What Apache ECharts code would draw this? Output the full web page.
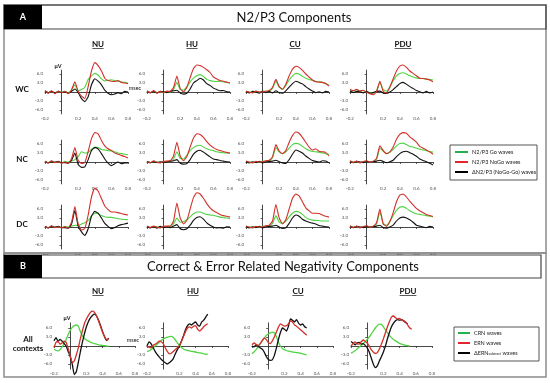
<!DOCTYPE html>
<html><head><meta charset="utf-8">
<script src="https://cdn.jsdelivr.net/npm/echarts@6/dist/echarts.min.js"></script>
<style>html,body{margin:0;padding:0;background:#fff}#c{width:550px;height:383px}</style>
</head><body><div id="c"></div>
<script>
// ---------------- DATA ----------------
const columns = ['NU','HU','CU','PDU'];
const rowsA = ['WC','NC','DC'];
const yTicks = [-6,-3,3,6];
const timeA = [-0.2,-0.16,-0.12,-0.08,-0.04,0,0.04,0.08,0.12,0.16,0.2,0.24,0.28,0.32,0.36,0.4,0.44,0.48,0.52,0.56,0.6,0.64,0.68,0.72,0.76,0.8];
const timeB = [-0.2,-0.175,-0.15,-0.125,-0.1,-0.075,-0.05,-0.025,0,0.025,0.05,0.075,0.1,0.125,0.15,0.175,0.2,0.225,0.25,0.275,0.3,0.325,0.35,0.375,0.4,0.425,0.45,0.475,0.5,0.525,0.55];

// Part A: N2/P3 Go (green), NoGo (red), NoGo-Go difference (black)
const NU_WC_go   = [0.3,-0.2,0.2,-0.3,0.1,-0.1,0.2,-0.2,0.6,2.4,0.4,0.8,1.6,4.2,5.4,6.2,5.6,4.4,3.7,3.9,4.1,3.8,3.6,3.4,3.2,2.9];
const NU_WC_nogo = [0.5,-0.4,0.4,-0.6,0.3,-0.3,0.2,-0.6,0.8,3.4,0.2,-1.4,-2.2,1.8,7.0,9.8,8.8,7.0,4.6,3.8,3.6,3.5,3.8,3.2,3.0,2.8];
const NU_WC_diff = [0.2,-0.2,0.2,-0.3,0.2,-0.2,0.0,-0.4,0.2,1.0,-0.2,-2.2,-3.2,-1.6,2.4,4.4,3.6,2.4,0.6,-0.4,-0.9,-0.7,-0.2,-0.6,0.2,0.0];
const HU_WC_go   = [0.2,-0.2,0.3,-0.2,0.1,-0.3,0.2,0.0,0.8,3.2,0.8,0.6,1.8,3.4,4.6,5.4,5.8,5.2,4.2,3.8,3.6,3.5,3.6,3.4,3.2,3.0];
const HU_WC_nogo = [0.4,-0.3,0.5,-0.4,0.2,-0.2,0.3,0.2,1.5,5.3,1.2,0.0,1.5,4.8,7.8,9.0,8.8,8.2,7.4,6.5,5.0,4.4,3.8,3.6,3.3,3.0];
const HU_WC_diff = [0.2,-0.2,0.1,-0.3,0.2,0.1,-0.2,0.2,0.4,0.6,-0.3,-0.7,-0.4,1.0,3.0,3.8,4.6,4.0,2.8,2.2,1.3,0.8,0.4,0.5,0.1,0.0];
const CU_WC_go   = [0.3,0.0,-0.2,0.2,-0.1,0.2,0.1,0.3,1.2,3.6,1.6,0.9,2.2,4.0,5.4,6.2,6.0,5.2,4.6,4.2,3.9,3.6,3.4,3.2,2.8,2.2];
const CU_WC_nogo = [0.2,-0.1,-0.3,0.3,0.0,0.1,0.3,0.5,1.6,4.2,1.8,0.9,2.6,5.4,7.6,8.6,8.2,7.2,6.0,5.0,4.0,3.4,3.3,3.2,2.8,2.0];
const CU_WC_diff = [0.2,-0.3,0.2,0.0,-0.4,0.3,-0.2,0.2,-0.3,0.4,-0.2,-0.4,0.4,1.6,2.8,3.6,3.2,2.7,1.8,1.0,0.3,-0.2,0.1,-0.3,0.2,0.0];
const PDU_WC_go   = [0.6,0.3,0.8,0.2,0.5,0.0,-0.2,-0.3,0.3,3.2,0.8,0.3,1.8,3.8,5.4,6.2,6.4,6.0,5.4,5.0,4.7,4.5,4.5,4.3,4.2,4.0];
const PDU_WC_nogo = [0.8,0.4,0.9,0.3,0.6,-0.1,-0.6,-0.9,0.2,3.6,0.2,-0.4,1.6,4.4,7.0,8.6,9.0,8.2,7.0,6.2,5.4,4.6,4.5,4.3,4.0,3.4];
const PDU_WC_diff = [0.3,-0.2,0.2,0.1,-0.3,0.2,-0.4,-0.2,0.2,0.3,-0.3,-0.5,0.0,0.8,1.8,2.8,3.2,2.6,1.8,1.2,0.5,0.1,-0.3,0.2,-0.3,0.0];

const NU_NC_go   = [0.2,-0.2,0.3,-0.1,0.0,-0.3,0.2,0.0,0.3,0.8,1.8,3.4,3.0,3.2,4.2,5.0,4.8,4.2,4.0,3.8,3.7,3.4,3.0,2.8,2.6,2.4];
const NU_NC_nogo = [0.3,-0.3,0.4,-0.2,0.1,-0.4,0.0,-0.5,1.2,4.8,0.5,-0.5,-0.2,3.5,7.8,9.8,9.4,7.2,5.4,4.4,3.8,3.0,2.6,2.2,1.8,1.3];
const NU_NC_diff = [0.2,-0.3,0.1,-0.1,0.2,-0.2,-0.2,-0.4,0.6,3.0,-0.8,-1.8,-1.6,0.8,3.8,4.8,4.4,2.8,1.0,-0.4,-1.2,-0.6,0.0,-0.6,-0.3,-0.3];
const HU_NC_go   = [0.2,-0.2,0.2,0.0,-0.2,0.1,0.2,0.3,1.0,3.4,1.2,1.0,2.2,3.8,4.8,5.4,5.6,5.0,4.4,4.0,3.8,3.4,3.2,3.1,3.0,2.9];
const HU_NC_nogo = [0.3,-0.3,0.4,-0.1,-0.3,0.2,0.3,0.4,2.0,6.6,2.0,0.4,1.8,5.0,8.0,9.4,9.2,8.2,6.8,5.6,4.8,4.2,3.8,3.5,3.2,3.0];
const HU_NC_diff = [0.2,-0.2,0.1,-0.2,0.1,-0.1,0.0,0.2,0.4,0.8,-0.4,-0.7,-0.5,0.8,2.6,3.6,3.9,3.3,2.5,1.7,1.0,0.8,0.5,0.3,0.1,0.0];
const CU_NC_go   = [0.2,0.0,-0.2,0.1,-0.1,0.2,0.3,0.4,1.4,4.8,3.4,2.8,3.4,4.6,5.8,6.2,6.0,5.2,4.4,3.8,3.5,3.4,3.3,3.0,2.8,2.5];
const CU_NC_nogo = [0.3,-0.1,-0.3,0.2,0.0,0.1,0.4,0.6,1.8,5.8,3.6,2.8,3.8,6.6,8.8,10.0,9.6,8.2,6.6,5.0,4.0,4.4,3.6,3.4,3.2,2.0];
const CU_NC_diff = [0.2,-0.3,0.1,-0.2,0.2,-0.3,0.1,0.2,0.3,0.6,0.1,-0.3,-0.5,0.8,2.6,4.0,3.6,3.0,2.0,1.2,0.5,0.2,0.0,0.4,0.3,-0.3];
const PDU_NC_go   = [0.3,0.0,0.2,-0.2,0.1,0.3,0.0,0.2,0.8,4.6,3.6,2.8,3.2,4.2,5.4,6.2,6.3,5.8,5.2,5.0,4.6,4.3,4.0,3.8,3.5,3.3];
const PDU_NC_nogo = [0.4,-0.2,0.3,-0.3,0.2,0.4,-0.1,0.3,1.2,5.4,3.8,2.8,3.4,5.0,7.6,9.2,9.8,9.6,8.4,7.6,6.6,5.2,4.6,4.0,3.4,2.6];
const PDU_NC_diff = [0.2,-0.2,0.2,0.0,-0.2,0.2,-0.1,0.1,0.3,0.6,0.2,-0.2,0.1,0.6,1.8,2.8,3.4,3.6,3.1,2.6,1.9,1.0,0.5,0.1,-0.4,-1.0];

const NU_DC_go   = [0.2,-0.2,0.3,-0.1,0.0,-0.2,0.2,0.0,0.3,0.6,0.5,1.0,1.4,2.2,3.6,4.6,4.4,3.8,3.4,3.2,3.2,3.0,2.8,2.6,2.5,2.4];
const NU_DC_nogo = [0.3,-0.3,0.4,-0.2,0.1,-0.3,0.1,-0.4,1.6,6.8,1.0,-1.0,-0.5,4.0,10.0,13.0,12.0,9.5,7.0,5.8,5.0,5.0,4.8,4.5,4.2,4.0];
const NU_DC_diff = [0.2,-0.3,0.2,-0.1,0.2,-0.2,-0.2,-0.4,1.0,5.5,0.2,-1.6,-2.8,-0.6,3.6,5.2,4.6,3.0,1.2,0.2,-0.6,-0.2,0.4,0.8,1.0,1.3];
const HU_DC_go   = [0.2,-0.1,0.2,0.0,-0.2,0.1,0.2,0.2,1.0,3.0,1.6,1.8,2.4,3.4,4.4,5.0,5.0,4.6,4.2,4.0,3.9,3.6,3.3,3.1,3.0,2.8];
const HU_DC_nogo = [0.3,-0.2,0.3,-0.1,-0.3,0.2,0.3,0.3,2.0,8.0,3.0,1.0,2.2,6.0,9.8,11.4,11.0,9.6,7.8,6.4,5.4,4.8,4.2,3.8,3.6,3.3];
const HU_DC_diff = [0.2,-0.3,0.1,-0.4,0.2,-0.2,0.0,-0.2,0.3,0.8,-0.6,-0.9,-0.6,0.6,2.2,3.2,3.4,2.6,1.4,0.6,0.0,-0.3,-0.2,-0.4,0.1,0.0];
const CU_DC_go   = [0.2,0.0,-0.2,0.1,-0.1,0.2,0.3,0.4,1.2,3.8,1.6,1.2,2.0,3.4,4.6,5.2,5.0,4.2,3.2,2.6,2.3,2.2,2.1,2.0,2.0,2.0];
const CU_DC_nogo = [0.3,-0.1,-0.3,0.2,0.0,0.1,0.4,0.6,2.0,7.5,3.0,1.0,2.4,6.0,9.6,11.0,10.4,8.4,6.4,5.4,4.6,4.6,4.5,4.0,3.6,3.3];
const CU_DC_diff = [0.2,-0.3,0.1,-0.2,0.2,-0.3,0.1,0.2,0.3,0.6,0.0,-0.5,-0.3,1.2,3.0,4.0,3.6,2.6,2.0,1.6,1.3,1.0,0.5,0.3,0.1,0.0];
const PDU_DC_go   = [0.3,0.0,0.2,-0.2,0.1,0.3,0.0,0.2,1.0,5.0,1.2,0.6,1.8,3.8,5.6,6.6,6.8,6.2,5.4,4.8,4.4,4.2,4.0,3.8,3.6,3.4];
const PDU_DC_nogo = [0.4,-0.2,0.3,-0.3,0.2,0.4,-0.1,0.3,1.4,6.0,1.0,0.2,1.8,4.8,8.4,10.6,11.0,10.0,8.6,7.4,6.2,5.4,4.8,4.2,3.8,3.5];
const PDU_DC_diff = [0.2,-0.2,0.2,0.0,-0.2,0.2,-0.1,0.1,0.3,0.6,-0.2,-0.4,0.0,0.6,2.0,3.0,3.3,3.0,2.4,1.6,0.6,0.3,0.0,-0.2,0.2,0.0];

// Part B: CRN (green), ERN (red), ERN subtract (black)
const NU_crn = [-1.0,-1.5,-1.6,-1.2,-0.3,0.8,2.2,3.8,5.2,6.2,6.8,7.0,6.6,4.8,3.4,2.6,2.0,1.6,1.3,1.0,0.8,0.6,0.4,0.3,0.2,0.1,0.0,-0.1];
const NU_ern = [-0.5,1.2,1.5,0.6,1.0,1.6,1.2,-0.8,-3.2,-5.6,-5.0,-3.0,-0.6,2.4,5.0,7.4,9.0,10.2,11.2,11.6,11.2,10.0,8.4,6.4,4.6,3.2,2.0,2.4];
const NU_sub = [1.7,2.8,1.6,2.2,1.6,0.8,0.0,-1.8,-3.5,-6.0,-9.5,-8.6,-5.5,-2.0,1.2,4.0,6.4,8.2,9.4,10.2,10.6,10.0,8.6,6.8,4.8,3.0,1.8,2.6];
const HU_crn = [-1.8,-1.6,-1.2,-0.6,0.0,0.6,1.2,1.8,2.3,2.7,2.9,3.1,3.2,2.8,2.0,1.0,0.2,-0.5,-1.0,-1.3,-1.5,-1.6,-1.8,-1.9,-2.0,-2.2,-2.3,-2.4,-2.6,-2.7,-2.8];
const HU_ern = [0.0,-0.4,-0.6,0.2,0.6,1.0,1.6,1.4,0.8,-0.6,-1.8,-2.6,-2.4,-1.8,-1.2,-0.6,0.2,1.6,3.2,4.8,6.0,6.4,6.0,6.6,6.8,5.6,5.0,5.6,6.4,7.0,7.4];
const HU_sub = [0.0,1.4,0.8,-0.5,-1.8,-2.8,-3.6,-4.4,-5.0,-5.6,-6.0,-5.6,-5.0,-4.2,-2.6,-1.2,0.0,1.6,3.4,5.4,6.8,7.4,7.0,7.6,8.0,7.0,6.6,8.0,8.6,9.6,10.6];
const CU_crn = [-2.6,-2.0,-1.2,-0.4,0.6,1.6,2.6,3.4,4.0,4.4,4.6,4.4,3.2,1.4,0.0,-0.8,-1.2,-1.5,-1.7,-1.9,-2.0,-2.1,-2.2,-2.3,-2.4,-2.6,-2.8,-3.0];
const CU_ern = [0.4,1.0,0.6,0.2,0.8,1.8,2.6,2.2,1.2,0.8,1.6,3.0,4.6,6.2,7.4,7.0,6.6,6.8,7.4,8.4,8.0,7.0,6.6,6.0,5.4,4.8,4.2,3.6];
const CU_sub = [0.0,-0.3,0.4,0.0,-0.6,-1.0,-2.0,-3.4,-4.4,-4.8,-4.6,-3.2,-0.8,2.0,4.4,6.0,5.6,5.0,6.6,9.0,8.6,8.0,8.8,7.6,7.0,7.4,6.4,6.0];
const PDU_crn = [-2.4,-2.0,-1.6,-1.0,-0.4,0.2,0.8,1.4,2.2,3.0,4.0,5.0,6.0,6.8,7.3,7.2,6.4,5.4,4.4,3.5,2.8,2.2,1.7,1.3,0.9,0.6,0.4,0.2,0.1,0.0];
const PDU_ern = [0.0,0.8,1.4,0.8,0.6,1.4,2.0,1.6,1.0,0.0,-1.2,-2.0,-2.5,-2.2,-1.0,0.6,2.4,4.4,6.4,8.2,9.6,10.0,9.4,9.0,9.2,8.6,8.4,8.0,7.0,6.0,5.6];
const PDU_sub = [1.5,1.0,0.4,1.0,1.2,0.6,0.8,0.2,-0.6,-2.0,-4.0,-6.0,-7.2,-6.6,-5.0,-3.6,-2.0,0.0,2.4,4.6,6.4,7.6,8.4,8.8,8.6,8.8,8.4,7.8,7.4];

// ---------------- LAYOUT / STYLE ----------------
const FONT = 'Lato, "Liberation Sans", sans-serif';
const C_GREEN = '#4fd444', C_RED = '#d3302a', C_BLACK = '#111';
const colLeftA = [45,147,246,350], wA = 83, zeroA = [92,162,227], PXA = 3, EXTA = 7.3;
const colLeftB = [54,147,252,351], wB = 81, zeroB = 346, PXB = 3, EXTB = 7.7;

const panelsA = [
  [NU_WC_go,NU_WC_nogo,NU_WC_diff],[HU_WC_go,HU_WC_nogo,HU_WC_diff],[CU_WC_go,CU_WC_nogo,CU_WC_diff],[PDU_WC_go,PDU_WC_nogo,PDU_WC_diff],
  [NU_NC_go,NU_NC_nogo,NU_NC_diff],[HU_NC_go,HU_NC_nogo,HU_NC_diff],[CU_NC_go,CU_NC_nogo,CU_NC_diff],[PDU_NC_go,PDU_NC_nogo,PDU_NC_diff],
  [NU_DC_go,NU_DC_nogo,NU_DC_diff],[HU_DC_go,HU_DC_nogo,HU_DC_diff],[CU_DC_go,CU_DC_nogo,CU_DC_diff],[PDU_DC_go,PDU_DC_nogo,PDU_DC_diff]
];
const panelsB = [[NU_crn,NU_ern,NU_sub],[HU_crn,HU_ern,HU_sub],[CU_crn,CU_ern,CU_sub],[PDU_crn,PDU_ern,PDU_sub]];

function pairs(t, v){ const o=[]; for(let i=0;i<v.length&&i<t.length;i++) o.push([t[i],v[i]]); return o; }

const grids=[], xAxes=[], yAxes=[], series=[];
function addPanel(left, top, width, height, ext, t, triple, lw){
  const gi = grids.length;
  grids.push({left, top, width, height, outerBoundsMode:'none', containLabel:false});
  xAxes.push({gridIndex:gi, type:'value', min:-0.2, max:0.8, interval:0.2,
    axisLine:{onZero:true, lineStyle:{color:'#333', width:0.9}},
    axisTick:{show:true, length:2, lineStyle:{color:'#333', width:0.8}},
    axisLabel:{fontSize:4.5, color:'#555', margin:2, fontFamily:FONT,
      formatter:v=>Math.abs(v)<1e-6?'':v.toFixed(1)},
    splitLine:{show:false}});
  yAxes.push({gridIndex:gi, type:'value', min:-ext, max:ext,
    axisLine:{show:true, onZero:true, lineStyle:{color:'#333', width:0.9}},
    axisTick:{show:true, length:2, customValues:yTicks, lineStyle:{color:'#333', width:0.8}},
    axisLabel:{fontSize:4.5, color:'#555', margin:2, fontFamily:FONT, customValues:yTicks,
      formatter:v=>v.toFixed(1)},
    splitLine:{show:false}});
  const cols=[C_GREEN, C_BLACK, C_RED];
  const order=[0,2,1];
  order.forEach((k,j)=>{
    series.push({type:'line', xAxisIndex:gi, yAxisIndex:gi, data:pairs(t, triple[k]),
      showSymbol:false, smooth:0.15, clip:false, silent:true, animation:false,
      lineStyle:{color:cols[j], width:lw}});
  });
}
panelsA.forEach((p,i)=>{
  const r=Math.floor(i/4), c=i%4;
  addPanel(colLeftA[c], zeroA[r]-EXTA*PXA, wA, 2*EXTA*PXA, EXTA, timeA, p, 1.1);
});
panelsB.forEach((p,c)=>{
  addPanel(colLeftB[c], zeroB-EXTB*PXB, wB, 2*EXTB*PXB, EXTB, timeB, p, 1.3);
});

// ---------------- GRAPHICS (frames, headers, labels, legends) ----------------
const g=[];
function txt(x,y,text,size,opt){ opt=opt||{};
  g.push({type:'text', z:10, style:{x,y,text, fill:opt.fill||'#111', font:(opt.bold?'bold ':'')+size+'px '+FONT,
    align:opt.align||'center', verticalAlign:'middle'}}); }
function rect(x,y,w,h,stroke,fill,lw){ g.push({type:'rect', z:5, shape:{x,y,width:w,height:h}, style:{stroke:stroke||null, fill:fill||'none', lineWidth:lw||1}}); }
function line(x1,y1,x2,y2,color,lw){ g.push({type:'line', z:6, shape:{x1,y1,x2,y2}, style:{stroke:color, lineWidth:lw}}); }

// Section A
rect(4,5,542,248,'#8c8c8c',null,1.5);
rect(4,5,542,24,'#444',null,1.2);
rect(4,5,38,24,null,'#000');
txt(23,17.5,'A',9,{fill:'#fff',bold:true});
txt(294,17.5,'N2/P3 Components',13);
// Section B
rect(4,253,542,124,'#8c8c8c',null,1.5);
rect(4,255,537,23,'#444',null,1.2);
rect(4,255,38,23,null,'#000');
txt(23,266.5,'B',9,{fill:'#fff',bold:true});
txt(283,266.5,'Correct & Error Related Negativity Components',13);

// column titles (underlined)
const titleXA=[98,192,295,403], titleXB=[98,193,298,408];
function colTitle(x,y,s){ txt(x,y,s,8,{bold:true}); const w=s.length*5.6; line(x-w/2,y+4.5,x+w/2,y+4.5,'#111',0.7); }
columns.forEach((s,i)=>{ colTitle(titleXA[i],44,s); colTitle(titleXB[i],291,s); });
// row labels
rowsA.forEach((s,i)=>txt(22,zeroA[i]-3,s,8,{bold:true}));
txt(28,339,'All',8,{bold:true});
txt(28,348,'contexts',8,{bold:true});
// units
txt(58,66,'μV',5.5,{bold:true});
txt(135,88,'msec',5.5);
txt(67,318,'μV',5.5,{bold:true});
txt(133,340,'msec',5.5);

// Legend A
rect(450,145,87,35,'#555',null,1);
[['N2/P3 Go waves','#22b14c'],['N2/P3 NoGo waves','#e3262b'],['ΔN2/P3 (NoGo-Go) waves','#000']].forEach((d,i)=>{
  const y=152+i*10; line(455,y,468,y,d[1],2); txt(472,y,d[0],5.5,{align:'left',fill:'#222'});
});
// Legend B
rect(454,327,85,34,'#555',null,1);
[['CRN waves','#22b14c'],['ERN waves','#e3262b']].forEach((d,i)=>{
  const y=333+i*10; line(458,y,470,y,d[1],2); txt(474,y,d[0],5.5,{align:'left',fill:'#222'});
});
line(458,353,470,353,'#000',2);
g.push({type:'text', z:10, style:{x:474, y:353, text:'{a|ΔERN}{s|subtract}{a| waves}', verticalAlign:'middle', align:'left',
  rich:{a:{fontSize:5.5, fontFamily:FONT, fill:'#222'}, s:{fontSize:3.5, fontFamily:FONT, fill:'#222', padding:[2,0,0,0]}}}});

const chart = echarts.init(document.getElementById('c'), null, {renderer:'canvas'});
chart.setOption({animation:false, backgroundColor:'#fff', grid:grids, xAxis:xAxes, yAxis:yAxes, series, graphic:g});
</script></body></html>
